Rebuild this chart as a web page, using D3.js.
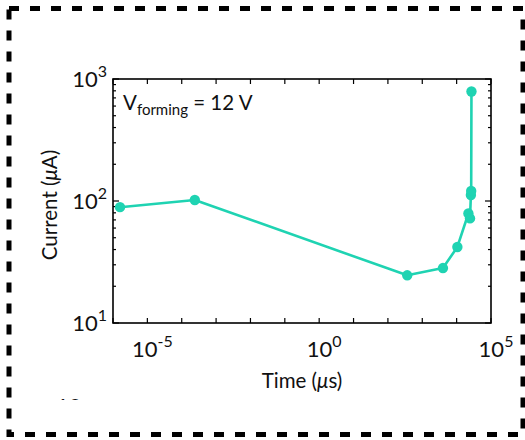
<!DOCTYPE html>
<html>
<head>
<meta charset="utf-8">
<script src="https://cdn.jsdelivr.net/npm/d3@7"></script>
<style>
  body { margin: 0; background: #fff; }
  svg { display: block; font-family: Lato, "Open Sans", sans-serif; }
  .tick-label { font-size: 22px; fill: #111; }
  .axis-label { font-size: 20.5px; fill: #111; }
</style>
</head>
<body>
<svg id="chart" width="525" height="440"></svg>
<script>
// forming transient: time (us) vs current (uA)
const timeUs = [1.6e-6, 2.4e-4, 365, 4000, 10500, 22000, 24500, 26000, 26500, 27000];
const currentUa = [89, 102, 24.6, 28.2, 42, 79, 72, 112, 121, 790];
const xTickExps = [-5, 0, 5];
const yTickExps = [1, 2, 3];

const linecolor = '#1fd3b2';
const W = 525, H = 440;
const plot = {left: 113, top: 79, right: 491, bottom: 323};

const svg = d3.select('#chart');

// dashed frame round the whole figure
svg.append('rect')
  .attr('x', 9).attr('y', 8.5)
  .attr('width', 514).attr('height', 426)
  .attr('fill', 'none')
  .attr('stroke', '#000')
  .attr('stroke-width', 5)
  .attr('stroke-dasharray', '10 11');

const x = d3.scaleLog().domain([1e-6, 1e5]).range([plot.left, plot.right]);
const y = d3.scaleLog().domain([10, 1000]).range([plot.bottom, plot.top]);

const g = svg.append('g');

// inward ticks: every decade on x, log minors on y
const xdecades = d3.range(-6, 6).map(e => Math.pow(10, e));
const yminor = [];
for (let e = 1; e < 3; e++) {
  for (let m = 2; m <= 9; m++) yminor.push(m * Math.pow(10, e));
}

xdecades.forEach(v => {
  const px = x(v);
  g.append('line').attr('x1', px).attr('x2', px)
    .attr('y1', plot.bottom).attr('y2', plot.bottom - 5)
    .attr('stroke', '#000').attr('stroke-width', 1.2);
  g.append('line').attr('x1', px).attr('x2', px)
    .attr('y1', plot.top).attr('y2', plot.top + 5)
    .attr('stroke', '#000').attr('stroke-width', 1.2);
});
yminor.forEach(v => {
  const py = y(v);
  g.append('line').attr('x1', plot.left).attr('x2', plot.left + 3)
    .attr('y1', py).attr('y2', py).attr('stroke', '#000').attr('stroke-width', 1.2);
  g.append('line').attr('x1', plot.right).attr('x2', plot.right - 3)
    .attr('y1', py).attr('y2', py).attr('stroke', '#000').attr('stroke-width', 1.2);
});
yTickExps.forEach(e => {
  const py = y(Math.pow(10, e));
  g.append('line').attr('x1', plot.left).attr('x2', plot.left + 6)
    .attr('y1', py).attr('y2', py).attr('stroke', '#000').attr('stroke-width', 1.2);
  g.append('line').attr('x1', plot.right).attr('x2', plot.right - 6)
    .attr('y1', py).attr('y2', py).attr('stroke', '#000').attr('stroke-width', 1.2);
});

// plot box
g.append('rect')
  .attr('x', plot.left).attr('y', plot.top)
  .attr('width', plot.right - plot.left).attr('height', plot.bottom - plot.top)
  .attr('fill', 'none').attr('stroke', '#000').attr('stroke-width', 1.6);

function powLabel(sel, exp) {
  sel.append('tspan').text('10');
  sel.append('tspan').attr('dy', -10).attr('font-size', 16).text(exp);
}

// x tick labels
xTickExps.forEach(e => {
  const t = svg.append('text').attr('class', 'tick-label')
    .attr('x', x(Math.pow(10, e)) + 5).attr('y', 357)
    .attr('text-anchor', 'middle');
  powLabel(t, e === -5 ? '-5' : String(e));
});
// y tick labels
yTickExps.forEach(e => {
  const t = svg.append('text').attr('class', 'tick-label')
    .attr('x', 107).attr('y', y(Math.pow(10, e)) + 8)
    .attr('text-anchor', 'end');
  powLabel(t, String(e));
});

// axis titles
const xl = svg.append('text').attr('class', 'axis-label')
  .attr('x', (plot.left + plot.right) / 2).attr('y', 388)
  .attr('text-anchor', 'middle');
xl.append('tspan').text('Time (');
xl.append('tspan').attr('font-style', 'italic').text('\u03bc');
xl.append('tspan').text('s)');

const yl = svg.append('text').attr('class', 'axis-label')
  .attr('transform', `translate(57, ${(plot.top + plot.bottom) / 2 + 4}) rotate(-90)`)
  .attr('text-anchor', 'middle');
yl.append('tspan').text('Current (');
yl.append('tspan').attr('font-style', 'italic').text('\u03bc');
yl.append('tspan').text('A)');

// annotation
const ann = svg.append('text').attr('class', 'axis-label')
  .attr('font-size', 21)
  .attr('x', 123).attr('y', 110);
ann.append('tspan').text('V');
ann.append('tspan').attr('font-size', 15).attr('dy', 5).text('forming');
ann.append('tspan').attr('dy', -5).text(' = 12 V');

// series
const pts = timeUs.map((t, i) => ({t: t, c: currentUa[i]}));
const line = d3.line().x(d => x(d.t)).y(d => y(d.c));
svg.append('path')
  .datum(pts)
  .attr('d', line)
  .attr('fill', 'none')
  .attr('stroke', linecolor)
  .attr('stroke-width', 2.6)
  .attr('stroke-linejoin', 'round');
svg.selectAll('.pt').data(pts).enter()
  .append('circle').classed('pt', true)
  .attr('cx', d => x(d.t)).attr('cy', d => y(d.c))
  .attr('r', 5.2)
  .attr('fill', linecolor);

// clipped label fragment along the bottom edge
svg.append('clipPath').attr('id', 'cut')
  .append('rect').attr('x', 0).attr('y', 0).attr('width', W).attr('height', 400);
svg.append('text').attr('class', 'tick-label')
  .attr('clip-path', 'url(#cut)')
  .attr('x', 56).attr('y', 414).text('10');
</script>
</body>
</html>
